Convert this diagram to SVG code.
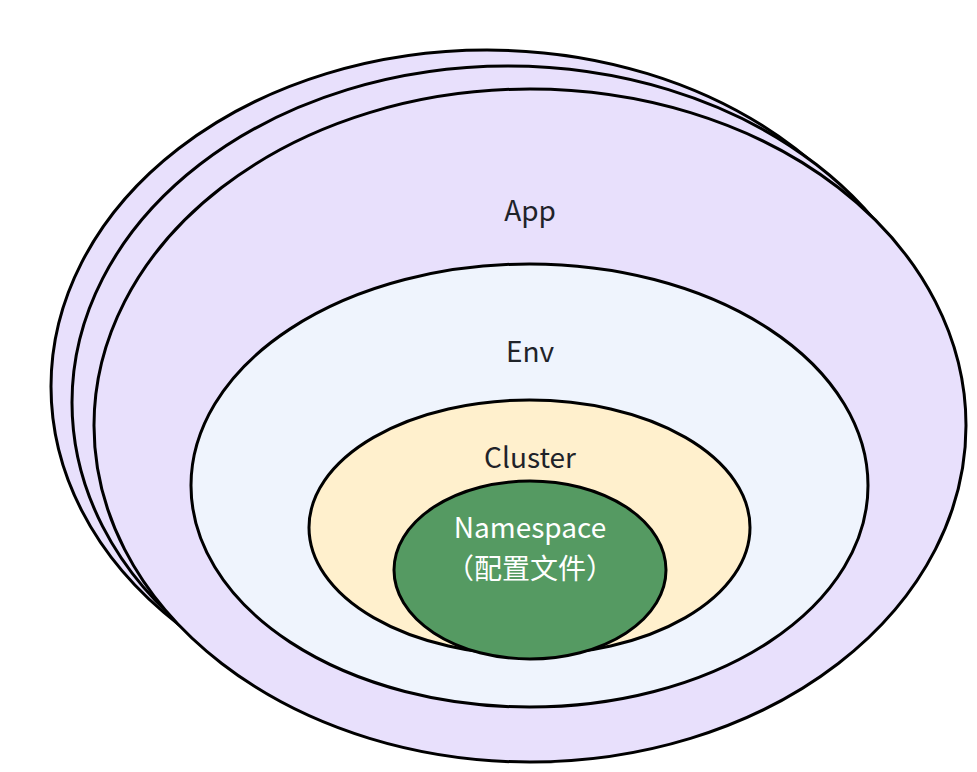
<svg xmlns="http://www.w3.org/2000/svg" width="977" height="772" viewBox="0 0 977 772">
<style>
.o{stroke:#000;stroke-width:3}
.app{fill:#e8e0fc}
.env{fill:#eff4fd}
.cl{fill:#fff0cd}
.ns{fill:#559a62}
.t{font-family:"Noto Sans CJK SC","Noto Sans",sans-serif;font-size:28px;text-anchor:middle;fill:#1f2329}
.w{fill:#ffffff}
</style>
<rect width="977" height="772" fill="#ffffff"/>
<g id="app-3"><ellipse class="o app" cx="487" cy="386.5" rx="436" ry="336.5"/></g>
<g id="app-2"><ellipse class="o app" cx="508" cy="402.5" rx="436" ry="336.5"/></g>
<g id="app">
<ellipse class="o app" cx="530" cy="425.5" rx="436" ry="336.5"/>
<text class="t" x="530" y="221">App</text>
</g>
<g id="env">
<ellipse class="o env" cx="529.5" cy="485.5" rx="338.5" ry="221.5"/>
<text class="t" x="530" y="362">Env</text>
</g>
<g id="cluster">
<ellipse class="o cl" cx="529.5" cy="527.5" rx="220.5" ry="127.5"/>
<text class="t" x="530" y="468">Cluster</text>
</g>
<g id="namespace">
<ellipse class="o ns" cx="530" cy="570" rx="136" ry="89"/>
<text class="t w" x="530" y="538">Namespace</text>
<text class="t w" x="530" y="579">（配置文件）</text>
</g>
<g id="connectors"></g>
</svg>
